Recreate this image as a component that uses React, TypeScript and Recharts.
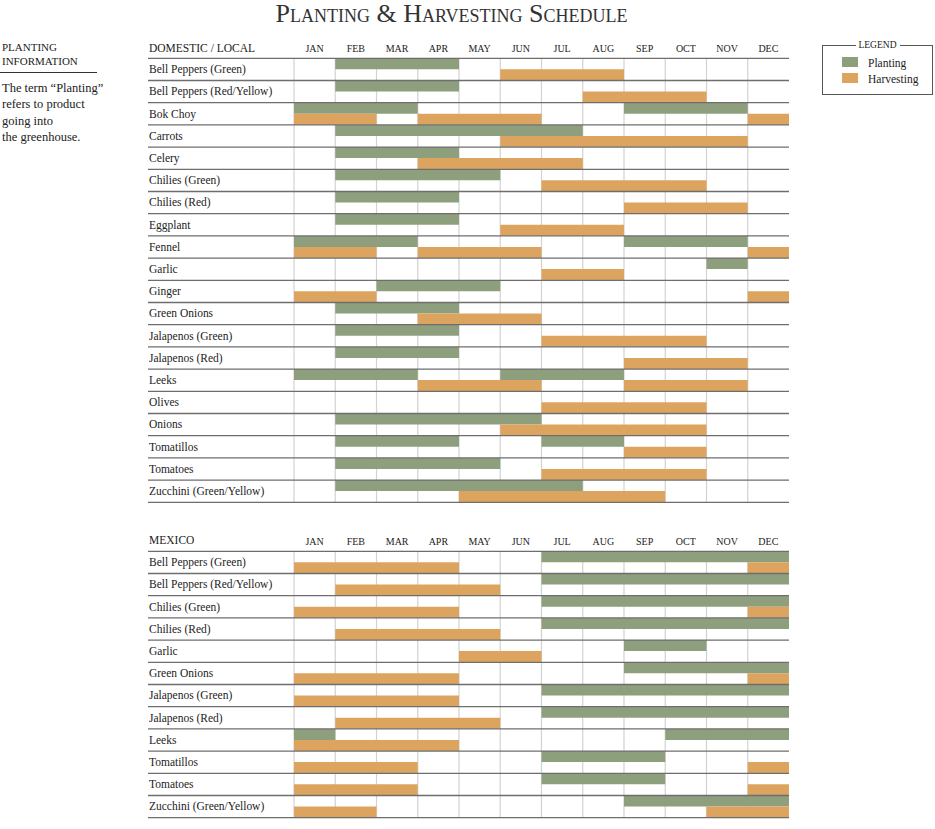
import { BarChart, Bar, XAxis, YAxis, CartesianGrid } from "recharts";

const MONTHS = ["JAN", "FEB", "MAR", "APR", "MAY", "JUN", "JUL", "AUG", "SEP", "OCT", "NOV", "DEC"];

// ranges are [first month, last month], inclusive, 1 = JAN
const domesticCrops = [
  "Bell Peppers (Green)",
  "Bell Peppers (Red/Yellow)",
  "Bok Choy",
  "Carrots",
  "Celery",
  "Chilies (Green)",
  "Chilies (Red)",
  "Eggplant",
  "Fennel",
  "Garlic",
  "Ginger",
  "Green Onions",
  "Jalapenos (Green)",
  "Jalapenos (Red)",
  "Leeks",
  "Olives",
  "Onions",
  "Tomatillos",
  "Tomatoes",
  "Zucchini (Green/Yellow)",
];

const domesticPlanting = [
  [[2, 4]],
  [[2, 4]],
  [[1, 3], [9, 11]],
  [[2, 7]],
  [[2, 4]],
  [[2, 5]],
  [[2, 4]],
  [[2, 4]],
  [[1, 3], [9, 11]],
  [[11, 11]],
  [[3, 5]],
  [[2, 4]],
  [[2, 4]],
  [[2, 4]],
  [[1, 3], [6, 8]],
  [],
  [[2, 6]],
  [[2, 4], [7, 8]],
  [[2, 5]],
  [[2, 7]],
];

const domesticHarvesting = [
  [[6, 8]],
  [[8, 10]],
  [[1, 2], [4, 6], [12, 12]],
  [[6, 11]],
  [[4, 7]],
  [[7, 10]],
  [[9, 11]],
  [[6, 8]],
  [[1, 2], [4, 6], [12, 12]],
  [[7, 8]],
  [[1, 2], [12, 12]],
  [[4, 6]],
  [[7, 10]],
  [[9, 11]],
  [[4, 6], [9, 11]],
  [[7, 10]],
  [[6, 10]],
  [[9, 10]],
  [[7, 10]],
  [[5, 9]],
];

const mexicoCrops = [
  "Bell Peppers (Green)",
  "Bell Peppers (Red/Yellow)",
  "Chilies (Green)",
  "Chilies (Red)",
  "Garlic",
  "Green Onions",
  "Jalapenos (Green)",
  "Jalapenos (Red)",
  "Leeks",
  "Tomatillos",
  "Tomatoes",
  "Zucchini (Green/Yellow)",
];

const mexicoPlanting = [
  [[7, 12]],
  [[7, 12]],
  [[7, 12]],
  [[7, 12]],
  [[9, 10]],
  [[9, 12]],
  [[7, 12]],
  [[7, 12]],
  [[1, 1], [10, 12]],
  [[7, 9]],
  [[7, 9]],
  [[9, 12]],
];

const mexicoHarvesting = [
  [[1, 4], [12, 12]],
  [[2, 5]],
  [[1, 4], [12, 12]],
  [[2, 5]],
  [[5, 6]],
  [[1, 4], [12, 12]],
  [[1, 4]],
  [[2, 5]],
  [[1, 4]],
  [[1, 3], [12, 12]],
  [[1, 3], [12, 12]],
  [[1, 2], [11, 12]],
];

const GREEN = "#8e9f7d";
const ORANGE = "#dda460";
const FONT = "'Liberation Serif', 'DejaVu Serif', serif";
const SEGMENTS = [0, 1, 2];

const CHART_W = 660;
const MARGIN = { top: 0, right: 11, bottom: 2, left: 0 };
const AXIS_H = 28.3;
const ROW_H = 22.2;

function fillLane(row: any, prefix: string, segs: number[][]) {
  let cursor = 0;
  SEGMENTS.forEach((k) => {
    const seg = segs[k];
    if (seg) {
      const start = seg[0] - 1;
      const end = seg[1];
      row[`${prefix}gap${k}`] = start - cursor;
      row[`${prefix}len${k}`] = end - start;
      cursor = end;
    } else {
      row[`${prefix}gap${k}`] = 0;
      row[`${prefix}len${k}`] = 0;
    }
  });
}

function buildRows(crops: string[], planting: number[][][], harvesting: number[][][]) {
  return crops.map((name, i) => {
    const row: any = { name };
    fillLane(row, "p", planting[i]);
    fillLane(row, "h", harvesting[i]);
    return row;
  });
}

function RowTick(props: any) {
  const { y, payload, index } = props;
  const right = CHART_W - MARGIN.right;
  return (
    <g>
      {index === 0 && <line x1={8} x2={right} y1={y - ROW_H / 2} y2={y - ROW_H / 2} stroke="#6e6e6e" strokeWidth={1.3} />}
      <line x1={8} x2={right} y1={y + ROW_H / 2} y2={y + ROW_H / 2} stroke="#6e6e6e" strokeWidth={1.3} />
      <text x={9} y={y} dy="0.33em" fontFamily={FONT} fontSize={11.5} fill="#222">
        {payload.value}
      </text>
    </g>
  );
}

function Schedule({ crops, planting, harvesting, heading, top }: any) {
  const data = buildRows(crops, planting, harvesting);
  const height = MARGIN.top + AXIS_H + ROW_H * crops.length + MARGIN.bottom;
  return (
    <div style={{ position: "absolute", left: 140, top }}>
      <div
        style={{
          position: "absolute",
          left: 9,
          top: AXIS_H - 16.5,
          fontFamily: FONT,
          fontSize: 11.5,
          color: "#222",
          whiteSpace: "nowrap",
        }}
      >
        {heading}
      </div>
      <BarChart
        width={CHART_W}
        height={height}
        data={data}
        layout="vertical"
        margin={MARGIN}
        barCategoryGap={0}
        barGap={0}
      >
        <CartesianGrid
          horizontal={false}
          stroke="#d2d2d2"
          strokeWidth={1.2}
          verticalCoordinatesGenerator={({ offset }: any) =>
            MONTHS.map((_, i) => offset.left + (offset.width * i) / MONTHS.length)
          }
        />
        <XAxis
          type="number"
          orientation="top"
          domain={[0, 12]}
          ticks={MONTHS.map((_, i) => i + 0.5)}
          tickFormatter={(v: number) => MONTHS[Math.floor(v)]}
          interval={0}
          axisLine={false}
          tickLine={false}
          tickSize={0}
          tickMargin={6}
          height={AXIS_H}
          tick={{ fontFamily: FONT, fontSize: 10, fill: "#222" }}
        />
        <YAxis
          type="category"
          dataKey="name"
          width={154}
          axisLine={false}
          tickLine={false}
          interval={0}
          tick={(p: any) => <RowTick {...p} />}
        />
        {SEGMENTS.map((k) => [
          <Bar key={`pg${k}`} dataKey={`pgap${k}`} stackId="p" fill="transparent" isAnimationActive={false} />,
          <Bar key={`pl${k}`} dataKey={`plen${k}`} stackId="p" fill={GREEN} isAnimationActive={false} />,
        ])}
        {SEGMENTS.map((k) => [
          <Bar key={`hg${k}`} dataKey={`hgap${k}`} stackId="h" fill="transparent" isAnimationActive={false} />,
          <Bar key={`hl${k}`} dataKey={`hlen${k}`} stackId="h" fill={ORANGE} isAnimationActive={false} />,
        ])}
      </BarChart>
    </div>
  );
}

export default function App() {
  return (
    <div
      style={{
        position: "absolute",
        left: 0,
        top: 0,
        width: 935,
        height: 829,
        background: "#fff",
        fontFamily: FONT,
        color: "#222",
      }}
    >
      <div
        style={{
          position: "absolute",
          left: -16,
          width: 935,
          top: 0,
          textAlign: "center",
          fontSize: 26,
          fontVariant: "small-caps",
          color: "#333",
          lineHeight: "27px",
        }}
      >
        Planting &amp; Harvesting Schedule
      </div>

      <div style={{ position: "absolute", left: 2, top: 41, fontSize: 11, lineHeight: "13.5px", color: "#222" }}>
        PLANTING
        <br />
        INFORMATION
      </div>
      <div style={{ position: "absolute", left: 0, top: 72, width: 97, borderTop: "1px solid #333" }} />
      <div style={{ position: "absolute", left: 2, top: 80, fontSize: 12.5, lineHeight: "16.3px", color: "#222" }}>
        The term “Planting”
        <br />
        refers to product
        <br />
        going into
        <br />
        the greenhouse.
      </div>

      <div
        style={{
          position: "absolute",
          left: 822,
          top: 45,
          width: 109,
          height: 48,
          border: "1px solid #555",
        }}
      >
        <div
          style={{
            position: "absolute",
            left: 0,
            right: 0,
            top: -7,
            textAlign: "center",
            fontSize: 9.5,
            lineHeight: "12px",
          }}
        >
          <span style={{ background: "#fff", padding: "0 3px" }}>LEGEND</span>
        </div>
        <div style={{ position: "absolute", left: 19, top: 11, width: 16, height: 10, background: GREEN }} />
        <div style={{ position: "absolute", left: 45, top: 10, fontSize: 11.5, lineHeight: "14px" }}>Planting</div>
        <div style={{ position: "absolute", left: 19, top: 27, width: 16, height: 10, background: ORANGE }} />
        <div style={{ position: "absolute", left: 45, top: 26, fontSize: 11.5, lineHeight: "14px" }}>Harvesting</div>
      </div>

      <Schedule
        crops={domesticCrops}
        planting={domesticPlanting}
        harvesting={domesticHarvesting}
        heading="DOMESTIC / LOCAL"
        top={30}
      />
      <Schedule
        crops={mexicoCrops}
        planting={mexicoPlanting}
        harvesting={mexicoHarvesting}
        heading="MEXICO"
        top={522.7}
      />
    </div>
  );
}
